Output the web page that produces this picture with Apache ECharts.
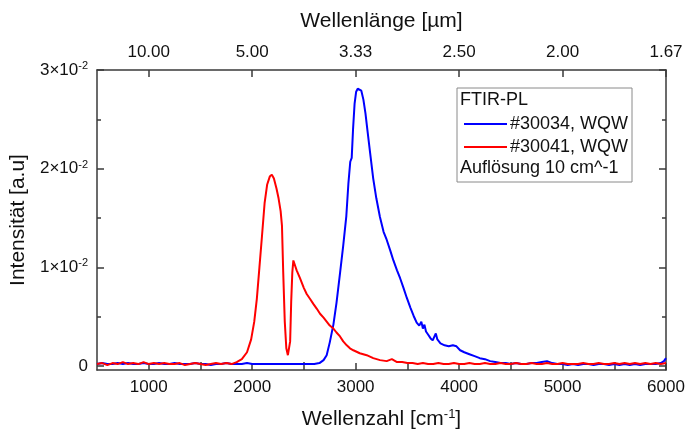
<!DOCTYPE html>
<html>
<head>
<meta charset="utf-8">
<script src="https://cdn.jsdelivr.net/npm/echarts@6/dist/echarts.min.js"></script>
<style>
  html, body { margin: 0; padding: 0; background: #fff; }
  #chart { width: 692px; height: 435px; }
</style>
</head>
<body>
<div id="chart"></div>
<script>
// FTIR photoluminescence spectra, intensity vs. wavenumber [cm^-1]
const seriesNames = ['#30034, WQW', '#30041, WQW'];

// #30034 (blue): [wavenumber, intensity]
const spectrum30034 = [
  [500,0.0002],[550,0.0003],[600,0.0002],[650,0.0002],[700,0.0003],[750,0.0002],[800,0.0003],[850,0.0002],
  [900,0.0002],[950,0.0003],[1000,0.0002],[1050,0.0002],[1100,0.0003],[1150,0.0002],[1200,0.0002],[1250,0.0003],
  [1300,0.0002],[1350,0.0002],[1400,0.0002],[1450,0.0003],[1500,0.0002],[1550,0.0002],[1600,0.0001],[1650,0.0002],
  [1700,0.0002],[1750,0.0003],[1800,0.0002],[1850,0.0002],[1900,0.0002],[1950,0.0003],[2000,0.0002],[2050,0.0002],
  [2100,0.0002],[2150,0.0002],[2200,0.0002],[2250,0.0002],[2300,0.0002],[2350,0.0002],[2400,0.0002],[2450,0.0002],
  [2500,0.0002],[2550,0.0002],[2600,0.0002],[2650,0.0003],[2690,0.0006],[2720,0.0011],[2750,0.0024],[2785,0.0042],
  [2815,0.0064],[2850,0.0095],[2880,0.0122],[2910,0.0152],[2930,0.0185],[2948,0.0207],
  [2962,0.0211],[2975,0.0240],[2990,0.0266],[3005,0.0278],[3020,0.0281],[3037,0.0282],[3055,0.0279],[3075,0.0270],
  [3095,0.0256],[3115,0.0238],[3140,0.0216],[3170,0.0190],[3200,0.0170],[3235,0.0151],[3270,0.0136],[3300,0.0128],
  [3335,0.0117],[3365,0.0107],[3400,0.0097],[3430,0.0089],[3460,0.0080],[3495,0.0069],[3530,0.0059],[3560,0.0051],
  [3590,0.0044],[3615,0.0041],[3635,0.0045],[3650,0.0038],[3665,0.0042],[3680,0.0035],[3700,0.0032],[3725,0.0028],
  [3745,0.0026],[3762,0.0030],[3775,0.0033],[3790,0.0027],[3820,0.0023],[3860,0.0021],[3900,0.0020],[3940,0.0021],
  [3975,0.0020],[4010,0.0016],[4050,0.0014],[4100,0.0012],[4150,0.0010],[4200,0.0008],[4250,0.0007],[4300,0.0005],
  [4350,0.0004],[4400,0.0003],[4450,0.0003],[4500,0.0002],[4550,0.0003],[4600,0.0002],[4650,0.0002],[4700,0.0003],
  [4750,0.0003],[4800,0.0004],[4850,0.0005],[4900,0.0003],[4950,0.0002],[5000,0.0002],[5050,0.0001],[5100,0.0002],
  [5150,0.0001],[5200,0.0002],[5250,0.0002],[5300,0.0001],[5350,0.0002],[5400,0.0002],[5450,0.0001],[5500,0.0002],
  [5550,0.0001],[5600,0.0002],[5650,0.0001],[5700,0.0002],[5750,0.0001],[5800,0.0002],[5850,0.0002],[5900,0.0002],
  [5950,0.0003],[5980,0.0005],[6000,0.0008]
];

// #30041 (red): [wavenumber, intensity]
const spectrum30041 = [
  [500,0.0002],[550,0.0003],[600,0.0001],[650,0.0003],[700,0.0002],[750,0.0004],[800,0.0002],[850,0.0003],
  [900,0.0002],[950,0.0004],[1000,0.0002],[1050,0.0003],[1100,0.0002],[1150,0.0003],[1200,0.0002],[1250,0.0002],
  [1300,0.0003],[1350,0.0001],[1400,0.0002],[1450,0.0003],[1500,0.0002],[1550,0.0001],[1600,0.0002],[1650,0.0003],
  [1700,0.0002],[1750,0.0003],[1800,0.0002],[1850,0.0004],[1900,0.0007],[1950,0.0014],[1990,0.0027],[2020,0.0045],
  [2045,0.0068],[2070,0.0100],[2095,0.0132],[2120,0.0165],[2145,0.0184],[2170,0.0192],[2190,0.0194],[2210,0.0190],
  [2235,0.0180],[2255,0.0170],[2275,0.0157],[2288,0.0142],[2300,0.0095],[2315,0.0045],[2330,0.0018],[2345,0.0011],
  [2357,0.0010],[2367,0.0025],[2377,0.0065],[2388,0.0095],[2398,0.0107],[2430,0.0097],[2462,0.0089],[2500,0.0079],
  [2527,0.0073],[2560,0.0068],[2591,0.0063],[2625,0.0058],[2656,0.0053],[2690,0.0049],[2720,0.0045],[2750,0.0041],
  [2785,0.0038],[2815,0.0034],[2849,0.0030],[2880,0.0025],[2914,0.0021],[2945,0.0018],[2978,0.0016],[3040,0.0013],
  [3107,0.0011],[3170,0.0008],[3236,0.0006],[3300,0.0005],[3350,0.0007],[3400,0.0004],[3450,0.0004],[3500,0.0003],
  [3550,0.0003],[3600,0.0002],[3650,0.0003],
  [3700,0.0002],[3750,0.0002],[3800,0.0003],[3850,0.0002],[3900,0.0002],[3950,0.0003],[4000,0.0002],[4050,0.0002],
  [4100,0.0003],[4150,0.0002],[4200,0.0002],[4250,0.0003],[4300,0.0002],[4350,0.0002],[4400,0.0003],[4450,0.0002],
  [4500,0.0002],[4550,0.0003],[4600,0.0002],[4650,0.0002],[4700,0.0003],[4750,0.0002],[4800,0.0002],[4850,0.0003],
  [4900,0.0002],[4950,0.0002],[5000,0.0003],[5050,0.0002],[5100,0.0002],[5150,0.0002],[5200,0.0003],[5250,0.0002],
  [5300,0.0002],[5350,0.0003],[5400,0.0002],[5450,0.0002],[5500,0.0003],[5550,0.0002],[5600,0.0003],[5650,0.0002],
  [5700,0.0003],[5750,0.0002],[5800,0.0003],[5850,0.0002],[5900,0.0003],[5950,0.0002],[6000,0.0003]
];

// Tick positions and labels
const xMajorTicks = [1000, 2000, 3000, 4000, 5000, 6000];
const xMinorTicks = [1500, 2500, 3500, 4500, 5500];
const wavelengthLabels = ['10.00', '5.00', '3.33', '2.50', '2.00', '1.67'];
const yMajorTicks = [0, 0.01, 0.02, 0.03];
const yMinorTicks = [0.005, 0.015, 0.025];
const yMantissas = ['0', '1', '2', '3'];

const FONT = '"Liberation Sans", Arial, sans-serif';
const AXIS_COLOR = '#3a3a3a';
const X_MIN = 500, X_MAX = 6000, Y_MIN = -0.0004, Y_MAX = 0.03;

function xAxisBase(pos) {
  return {
    type: 'value', position: pos, min: X_MIN, max: X_MAX,
    splitLine: { show: false },
    axisLine: { show: true, onZero: false, lineStyle: { color: AXIS_COLOR, width: 1.5 } }
  };
}
function yAxisBase(pos) {
  return {
    type: 'value', position: pos, min: Y_MIN, max: Y_MAX,
    splitLine: { show: false },
    axisLine: { show: true, onZero: false, lineStyle: { color: AXIS_COLOR, width: 1.5 } }
  };
}
function minorX(pos) {
  return Object.assign(xAxisBase(pos), {
    axisLine: { show: false },
    axisLabel: { show: false },
    axisTick: { show: true, inside: true, length: 4, customValues: xMinorTicks,
                lineStyle: { color: AXIS_COLOR, width: 1.5 } }
  });
}
function minorY(pos) {
  return Object.assign(yAxisBase(pos), {
    axisLine: { show: false },
    axisLabel: { show: false },
    axisTick: { show: true, inside: true, length: 4, customValues: yMinorTicks,
                lineStyle: { color: AXIS_COLOR, width: 1.5 } }
  });
}

const chart = echarts.init(document.getElementById('chart'), null, { renderer: 'canvas' });

chart.setOption({
  animation: false,
  backgroundColor: '#fff',
  textStyle: { fontFamily: FONT },
  grid: { left: 97, right: 26, top: 70, bottom: 63, containLabel: false },
  xAxis: [
    Object.assign(xAxisBase('bottom'), {
      name: 'Wellenzahl [cm{sup|-1}]',
      nameLocation: 'middle', nameGap: 38,
      nameTextStyle: {
        fontFamily: FONT, fontSize: 21, color: '#111',
        rich: { sup: { fontFamily: FONT, fontSize: 13, color: '#111', verticalAlign: 'top', padding: [0, 0, 10, 0] } }
      },
      axisTick: { show: true, inside: true, length: 7, customValues: xMajorTicks,
                  lineStyle: { color: AXIS_COLOR, width: 1.5 } },
      axisLabel: { customValues: xMajorTicks, fontFamily: FONT, fontSize: 17, color: '#111', margin: 9,
                   formatter: v => String(v) }
    }),
    Object.assign(xAxisBase('top'), {
      name: 'Wellenlänge [µm]',
      nameLocation: 'middle', nameGap: 38,
      nameTextStyle: { fontFamily: FONT, fontSize: 21, color: '#111' },
      axisTick: { show: true, inside: true, length: 7, customValues: xMajorTicks,
                  lineStyle: { color: AXIS_COLOR, width: 1.5 } },
      axisLabel: {
        customValues: xMajorTicks, fontFamily: FONT, fontSize: 17, color: '#111', margin: 9,
        formatter: v => wavelengthLabels[xMajorTicks.indexOf(v)]
      }
    }),
    minorX('bottom'),
    minorX('top')
  ],
  yAxis: [
    Object.assign(yAxisBase('left'), {
      name: 'Intensität [a.u]',
      nameLocation: 'middle', nameGap: 58, nameRotate: 90,
      nameTextStyle: { fontFamily: FONT, fontSize: 21, color: '#111' },
      axisTick: { show: true, inside: true, length: 7, customValues: yMajorTicks,
                  lineStyle: { color: AXIS_COLOR, width: 1.5 } },
      axisLabel: {
        customValues: yMajorTicks, fontFamily: FONT, fontSize: 17, color: '#111', margin: 9,
        formatter: v => {
          const i = yMajorTicks.indexOf(v);
          if (i <= 0) return '{m|0}';
          return '{m|' + yMantissas[i] + '×10}{s|-2}';
        },
        rich: {
          m: { fontFamily: FONT, fontSize: 17, color: '#111' },
          s: { fontFamily: FONT, fontSize: 11, color: '#111', verticalAlign: 'top', padding: [0, 0, 8, 0] }
        }
      }
    }),
    Object.assign(yAxisBase('right'), {
      axisTick: { show: true, inside: true, length: 7, customValues: yMajorTicks,
                  lineStyle: { color: AXIS_COLOR, width: 1.5 } },
      axisLabel: { show: false }
    }),
    minorY('left'),
    minorY('right')
  ],
  legend: {
    data: seriesNames,
    orient: 'vertical',
    left: 459, top: 110,
    itemWidth: 43, itemHeight: 2, itemGap: 5,
    icon: 'rect',
    textStyle: { fontFamily: FONT, fontSize: 18, color: '#111', padding: [0, 0, 0, -2] },
    z: 6
  },
  graphic: [
    { type: 'rect', z: 5, shape: { x: 457, y: 88, width: 175, height: 94 },
      style: { fill: '#fff', stroke: '#8a8a8a', lineWidth: 1 } },
    { type: 'text', z: 6, left: 460, top: 91,
      style: { text: 'FTIR-PL', font: '18px ' + FONT, fill: '#111' } },
    { type: 'text', z: 6, left: 460, top: 159,
      style: { text: 'Auflösung 10 cm^-1', font: '18px ' + FONT, fill: '#111' } }
  ],
  series: [
    { name: seriesNames[0], type: 'line', data: spectrum30034, showSymbol: false,
      xAxisIndex: 0, yAxisIndex: 0, color: '#0000ff',
      lineStyle: { color: '#0000ff', width: 2 } },
    { name: seriesNames[1], type: 'line', data: spectrum30041, showSymbol: false,
      xAxisIndex: 0, yAxisIndex: 0, color: '#ff0000',
      lineStyle: { color: '#ff0000', width: 2 } }
  ]
});
</script>
</body>
</html>
